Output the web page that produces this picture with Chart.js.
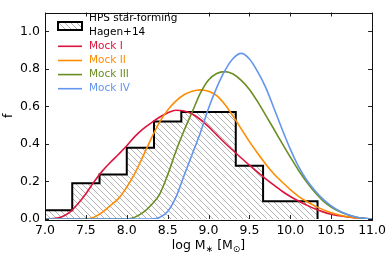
<!DOCTYPE html>
<html><head><meta charset="utf-8">
<script src="https://cdn.jsdelivr.net/npm/chart.js@4/dist/chart.umd.min.js"></script>
<style>html,body{margin:0;padding:0;background:#fff}canvas{display:block}</style>
</head><body><canvas id="c" width="390" height="258"></canvas>
<script>
// ---- data ----
const binEdges  = [7.0, 7.333, 7.667, 8.0, 8.333, 8.667, 9.0, 9.333, 9.667, 10.0, 10.333];
const binValues = [0.047, 0.19, 0.237, 0.38, 0.52, 0.57, 0.57, 0.284, 0.094, 0.094];

const massGrid = [7.0,7.1,7.2,7.3,7.4,7.5,7.6,7.7,7.8,7.9,8.0,8.1,8.2,8.3,8.4,8.5,8.6,8.7,8.8,8.9,
                  9.0,9.1,9.2,9.3,9.4,9.5,9.6,9.7,9.8,9.9,10.0,10.1,10.2,10.3,10.4,10.5,10.6,10.7,10.8,10.9,11.0];
const mockI   = [0.0,0.002,0.01,0.035,0.08,0.135,0.198,0.255,0.302,0.345,0.39,0.44,0.48,0.512,0.542,0.565,0.579,0.575,0.559,0.53,
                 0.492,0.448,0.405,0.365,0.325,0.287,0.25,0.214,0.18,0.148,0.12,0.096,0.074,0.054,0.038,0.025,0.017,0.011,0.006,0.003,0.0];
const mockII  = [0,0,0,0,0,0,0.01,0.035,0.072,0.11,0.17,0.245,0.335,0.43,0.515,0.58,0.628,0.662,0.68,0.688,
                 0.68,0.657,0.61,0.548,0.48,0.412,0.35,0.292,0.24,0.197,0.157,0.121,0.093,0.07,0.05,0.033,0.021,0.012,0.006,0.002,0.0];
const mockIII = [0,0,0,0,0,0,0,0,0,0,0,0.01,0.035,0.075,0.13,0.235,0.36,0.47,0.57,0.67,
                 0.74,0.775,0.785,0.772,0.738,0.69,0.625,0.552,0.478,0.403,0.33,0.26,0.197,0.142,0.097,0.064,0.04,0.023,0.011,0.004,0.0];
const mockIV  = [0,0,0,0,0,0,0,0,0,0,0,0,0,0,0.008,0.04,0.115,0.23,0.345,0.46,
                 0.59,0.70,0.79,0.855,0.882,0.852,0.785,0.70,0.59,0.478,0.372,0.28,0.208,0.152,0.106,0.07,0.043,0.024,0.011,0.004,0.0];

const xTicks = [7.0,7.5,8.0,8.5,9.0,9.5,10.0,10.5,11.0];
const yTicks = [0.0,0.2,0.4,0.6,0.8,1.0];
const seriesNames = ['Mock I','Mock II','Mock III','Mock IV'];
const histLabel = ['HPS star-forming','Hagen+14'];
const colors = ['#dc143c','#ff8c00','#6b8e23','#6495ed'];

// ---- build ----
const FONT = '"DejaVu Sans", sans-serif';
function hatch(){
  const c = document.createElement('canvas'); c.width = 6; c.height = 6;
  const g = c.getContext('2d');
  g.strokeStyle = '#9a9a9a'; g.lineWidth = 0.75;
  g.beginPath();
  g.moveTo(-1,-1); g.lineTo(7,7);
  g.moveTo(-1,5); g.lineTo(1,7);
  g.moveTo(5,-1); g.lineTo(7,1);
  g.stroke();
  return g.createPattern(c,'repeat');
}
const pat = hatch();

const histPts = [{x: binEdges[0], y: 0}];
binValues.forEach((v,i)=>histPts.push({x: binEdges[i], y: v}));
histPts.push({x: binEdges[binEdges.length-1], y: binValues[binValues.length-1]});
histPts.push({x: binEdges[binEdges.length-1], y: 0});

const mocks = [mockI, mockII, mockIII, mockIV];
const curveSets = mocks.map((arr,i)=>({
  label: seriesNames[i],
  data: massGrid.map((m,j)=>({x:m, y:arr[j]})),
  borderColor: colors[i], borderWidth: 1.6, pointRadius: 0,
  cubicInterpolationMode: 'monotone', fill: false
})).reverse();

const histSet = {
  label: histLabel.join(' '),
  data: histPts, stepped: 'before',
  borderColor: '#000', borderWidth: 2, pointRadius: 0,
  backgroundColor: pat, fill: 'origin'
};

const decor = {
  id: 'decor',
  afterDraw(chart){
    const ctx = chart.ctx, xs = chart.scales.x, ys = chart.scales.y, a = chart.chartArea;
    ctx.save();
    // inward ticks
    ctx.strokeStyle = '#222'; ctx.lineWidth = 1;
    ctx.beginPath();
    xTicks.forEach(t=>{
      const px = Math.round(xs.getPixelForValue(t))+0.5;
      ctx.moveTo(px, a.bottom); ctx.lineTo(px, a.bottom-4);
      ctx.moveTo(px, a.top); ctx.lineTo(px, a.top+4);
    });
    yTicks.forEach(t=>{
      const py = Math.round(ys.getPixelForValue(t))+0.5;
      ctx.moveTo(a.left, py); ctx.lineTo(a.left+4, py);
      ctx.moveTo(a.right, py); ctx.lineTo(a.right-4, py);
    });
    ctx.stroke();
    // frame
    ctx.strokeStyle = '#111'; ctx.lineWidth = 1;
    ctx.strokeRect(Math.round(a.left)+0.5, Math.round(a.top)+0.5, Math.round(a.right-a.left), Math.round(a.bottom-a.top));
    // y title
    ctx.fillStyle = '#000';
    ctx.font = '12.5px ' + FONT;
    ctx.textAlign = 'center'; ctx.textBaseline = 'middle';
    ctx.save(); ctx.translate(9, (a.top+a.bottom)/2); ctx.rotate(-Math.PI/2);
    ctx.fillText('f', 0, 0); ctx.restore();
    // x title with subscripts
    const parts = [['log M',0],['∗',1],[' [M',0],['⊙',1],[']',0]];
    const big = '12.5px ' + FONT, small = '9px ' + FONT;
    let w = 0;
    parts.forEach(p=>{ctx.font = p[1]?small:big; w += ctx.measureText(p[0]).width;});
    let cx = (a.left+a.right)/2 - w/2; const base = 249;
    ctx.textAlign = 'left'; ctx.textBaseline = 'alphabetic';
    parts.forEach(p=>{
      ctx.font = p[1]?small:big;
      ctx.fillText(p[0], cx, base + (p[1]?3:0));
      cx += ctx.measureText(p[0]).width;
    });
    // legend
    const lx0 = 58, lx1 = 82, tx = 89;
    ctx.font = '10.5px ' + FONT; ctx.textBaseline = 'middle';
    ctx.fillStyle = '#000';
    ctx.fillText(histLabel[0], tx, 18);
    ctx.fillText(histLabel[1], tx, 32);
    ctx.fillStyle = '#fff'; ctx.fillRect(lx0, 22, lx1-lx0, 8);
    ctx.fillStyle = pat; ctx.fillRect(lx0, 22, lx1-lx0, 8);
    ctx.strokeStyle = '#000'; ctx.lineWidth = 2; ctx.strokeRect(lx0, 22, lx1-lx0, 8);
    const ly = [46.3, 60.5, 74.6, 88.7];
    seriesNames.forEach((n,i)=>{
      ctx.strokeStyle = colors[i]; ctx.lineWidth = 1.6;
      ctx.beginPath(); ctx.moveTo(lx0, ly[i]); ctx.lineTo(lx1, ly[i]); ctx.stroke();
      ctx.fillStyle = colors[i]; ctx.fillText(n, tx, ly[i]);
    });
    ctx.restore();
  }
};

new Chart(document.getElementById('c'), {
  type: 'line',
  data: { datasets: [...curveSets, histSet] },
  options: {
    responsive: false, devicePixelRatio: 1, animation: false,
    layout: { padding: { top: 2, right: 16, left: 0, bottom: 0 } },
    plugins: { legend: { display: false }, tooltip: { enabled: false } },
    scales: {
      x: {
        type: 'linear', min: 7, max: 11,
        afterBuildTicks: s => { s.ticks = xTicks.map(v=>({value:v})); },
        afterFit: s => { s.height = 39; },
        grid: { display: false, drawTicks: false }, border: { display: false },
        ticks: { padding: 4, color: '#000', font: { family: FONT, size: 12.5 }, maxRotation: 0,
                 callback: v => Number(v).toFixed(1) }
      },
      y: {
        type: 'linear', min: 0, max: 1.1,
        afterBuildTicks: s => { s.ticks = yTicks.map(v=>({value:v})); },
        afterFit: s => { s.width = 45; },
        grid: { display: false, drawTicks: false }, border: { display: false },
        ticks: { padding: 5, color: '#000', font: { family: FONT, size: 12.5 },
                 callback: v => Number(v).toFixed(1) }
      }
    }
  },
  plugins: [decor]
});
</script></body></html>
